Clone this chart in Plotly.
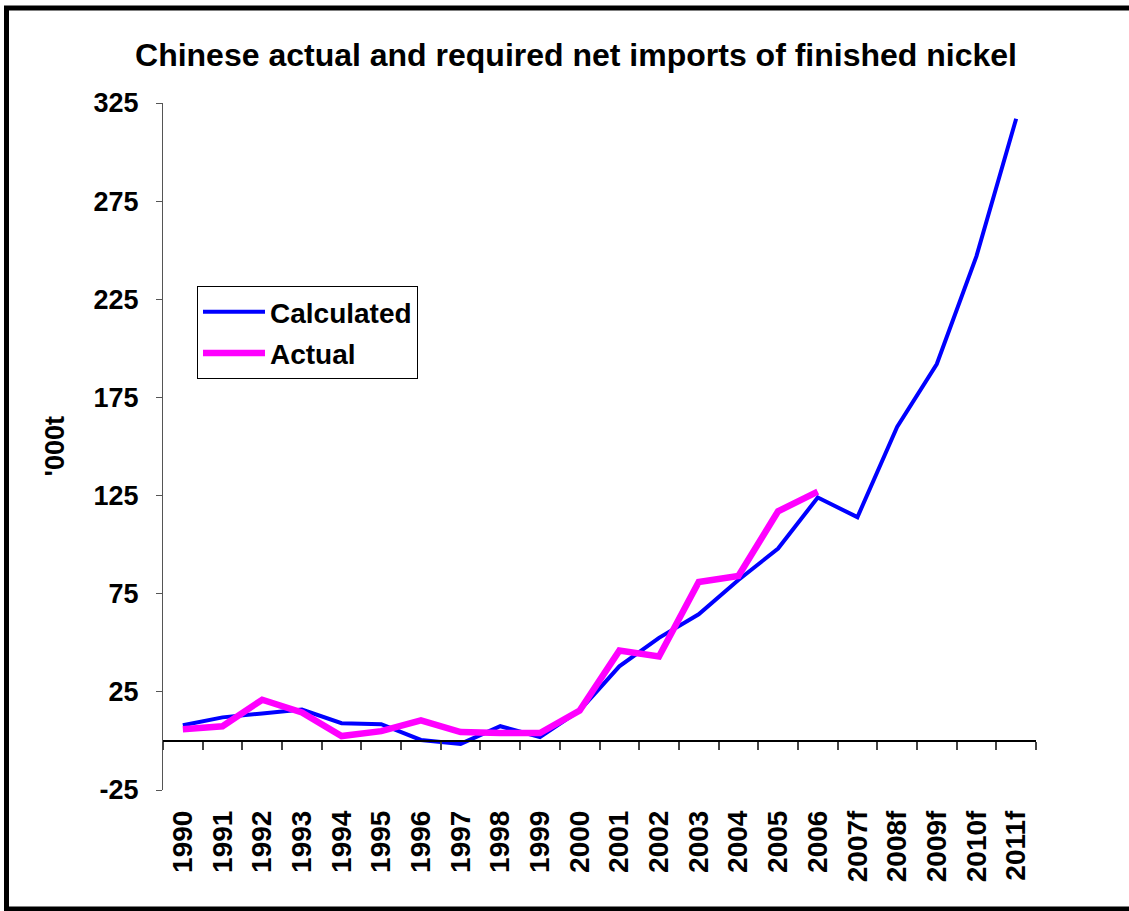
import plotly.graph_objects as go

# Net imports of finished nickel, thousand tonnes
years = ["1990", "1991", "1992", "1993", "1994", "1995", "1996", "1997", "1998",
         "1999", "2000", "2001", "2002", "2003", "2004", "2005", "2006",
         "2007f", "2008f", "2009f", "2010f", "2011f"]
calculated = [8, 12, 14, 16, 9, 8.5, 0.5, -1.5, 7.5, 2, 15.5, 38, 52.5, 64.5,
              82, 98, 124, 114, 160, 192, 247, 317]
actual = [6, 7.5, 21, 14.5, 2.5, 5, 10.5, 4.5, 4, 4, 15.5, 46, 43, 81,
          84, 117, 127]

y_ticks = [-25, 25, 75, 125, 175, 225, 275, 325]
y_tick_text = ["-25", "25", "75", "125", "175", "225", "275", "325"]

FONT = "Liberation Sans, Arial, sans-serif"
W, H = 1129, 911
L, R, T, B = 163, 93, 103, 121
PW, PH = W - L - R, H - T - B
Y_MIN, Y_MAX = -25, 325


def px_x(px):
    return (px - L) / PW


def px_y(py):
    return (H - B - py) / PH


def bold(size):
    return dict(size=size, family=FONT, color="black", weight="bold")


fig = go.Figure()
fig.add_trace(go.Scatter(
    x=years, y=calculated, name="Calculated", mode="lines",
    line=dict(color="#0000FF", width=4), legendgroup="a"))
fig.add_trace(go.Scatter(
    x=years[:len(actual)], y=actual, name="Actual", mode="lines",
    line=dict(color="#FF00FF", width=6.5), legendgroup="b"))
# carrier trace for the axis drawn through zero
fig.add_trace(go.Scatter(
    x=years, y=calculated, xaxis="x2", mode="lines", opacity=0,
    showlegend=False, hoverinfo="skip"))

zero_pos = (0 - Y_MIN) / (Y_MAX - Y_MIN)

fig.update_layout(
    width=W, height=H,
    margin=dict(l=L, r=R, t=T, b=B),
    paper_bgcolor="white", plot_bgcolor="white",
    font=bold(26),
    title=dict(text="Chinese actual and required net imports of finished nickel",
               x=576 / W, xref="container", xanchor="center",
               y=1 - 55 / H, yref="container", yanchor="middle",
               font=bold(32)),
    showlegend=True,
    legend=dict(x=px_x(197), y=px_y(286), xanchor="left", yanchor="top",
                bgcolor="white", bordercolor="black", borderwidth=1,
                font=bold(28),
                traceorder="grouped", tracegroupgap=2,
                itemwidth=62),
    xaxis=dict(type="category", categoryorder="array", categoryarray=years,
               range=[-0.5, len(years) - 0.5],
               showline=False, ticks="", showgrid=False, zeroline=False,
               tickangle=-90, ticklabelstandoff=14,
               tickfont=bold(28)),
    xaxis2=dict(type="category", categoryorder="array", categoryarray=years,
                range=[-0.5, len(years) - 0.5], overlaying="x",
                anchor="free", position=zero_pos, side="bottom",
                showline=True, linecolor="black", linewidth=1.5,
                ticks="outside", ticklen=8, tickwidth=1.5, tickcolor="#444",
                tickson="boundaries", showticklabels=False, showgrid=False),
    yaxis=dict(range=[Y_MIN, Y_MAX], tickvals=y_ticks, ticktext=y_tick_text,
               showline=True, linecolor="#555", linewidth=1.2,
               ticks="outside", ticklen=6, tickcolor="#555",
               showgrid=False, zeroline=False, ticklabelstandoff=12,
               tickfont=bold(27)),
    annotations=[dict(text="'000t", textangle=-90, showarrow=False,
                      xref="paper", yref="paper", x=px_x(54), y=0.5,
                      xanchor="center", yanchor="middle",
                      font=bold(27))],
    shapes=[dict(type="rect", xref="paper", yref="paper",
                 x0=px_x(6.5), x1=px_x(1140), y0=px_y(8), y1=px_y(909),
                 line=dict(color="black", width=5), layer="above")],
)

fig.write_html("out.html")
